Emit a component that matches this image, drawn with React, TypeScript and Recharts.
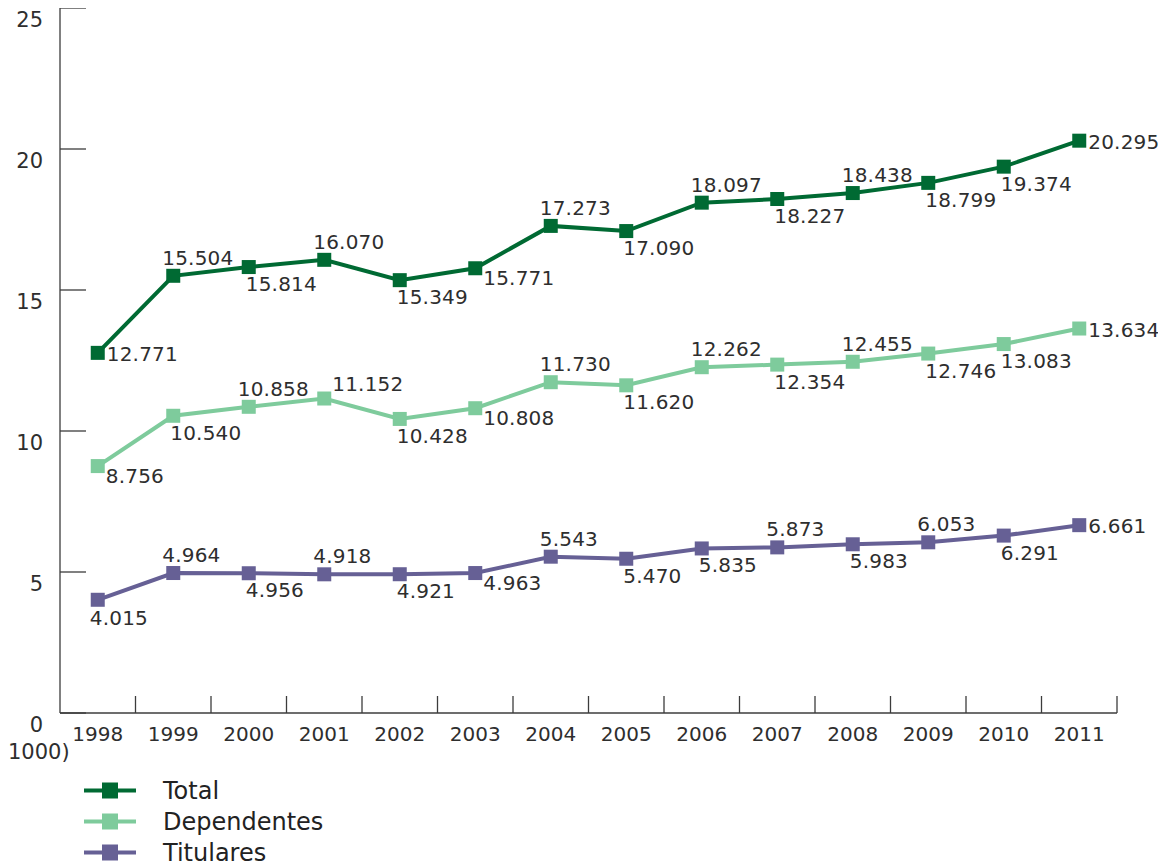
import React from "react";
import { LineChart, Line, XAxis, YAxis, Legend, LabelList } from "recharts";

const years = ["1998", "1999", "2000", "2001", "2002", "2003", "2004", "2005", "2006", "2007", "2008", "2009", "2010", "2011"];
const total = [12.771, 15.504, 15.814, 16.07, 15.349, 15.771, 17.273, 17.09, 18.097, 18.227, 18.438, 18.799, 19.374, 20.295];
const dependentes = [8.756, 10.54, 10.858, 11.152, 10.428, 10.808, 11.73, 11.62, 12.262, 12.354, 12.455, 12.746, 13.083, 13.634];
const titulares = [4.015, 4.964, 4.956, 4.918, 4.921, 4.963, 5.543, 5.47, 5.835, 5.873, 5.983, 6.053, 6.291, 6.661];
const yTicks = [0, 5, 10, 15, 20, 25];

// where each value label sits relative to its marker
const totalPos = ["r", "a", "b", "a", "b", "rb", "a", "b", "a", "b", "a", "b", "b", "r"];
const depPos = ["rb", "b", "a", "ra", "b", "rb", "a", "b", "a", "b", "a", "b", "b", "r"];
const titPos = ["bl", "a", "b", "a", "b", "rb", "a", "b", "b", "a", "b", "a", "b", "r"];

const FONT = "'DejaVu Sans', sans-serif";
const TEXT = "#2e2e2e";
const AXIS = "#3c3c3c";
const C_TOTAL = "#006a33";
const C_DEP = "#7ecb9c";
const C_TIT = "#666095";

const W = 1158;
const H = 857;
const M = { top: 0, right: 49, bottom: 122, left: 0 };
const Y_W = 52;
const X_H = 30;
const BAND = (W - M.left - M.right - Y_W) / years.length;

const data = years.map((year, i) => ({
  year,
  total: total[i],
  dependentes: dependentes[i],
  titulares: titulares[i],
}));

const offsets: Record<string, [number, number]> = {
  a: [-11, -11],
  b: [-3, 24],
  bl: [-8, 25],
  r: [9, 8],
  rb: [8, 17],
  ra: [8, -8],
};

const makeLabel = (pos: string[]) => (props: any) => {
  const x = props.x ?? props.viewBox?.x;
  const y = props.y ?? props.viewBox?.y;
  const [dx, dy] = offsets[pos[props.index]] || offsets.b;
  return (
    <text x={x + dx} y={y + dy} fontSize={20} fill={TEXT} fontFamily={FONT} letterSpacing={0.2}>
      {Number(props.value).toFixed(3)}
    </text>
  );
};

const makeDot = (color: string) => (props: any) => (
  <rect key={`d-${props.index}`} x={props.cx - 7} y={props.cy - 7} width={14} height={14} fill={color} />
);

const XTick = (props: any) => {
  const { x, y, payload } = props;
  return (
    <g>
      <line x1={x + BAND / 2} x2={x + BAND / 2} y1={y} y2={y - 17} stroke={AXIS} strokeWidth={1.3} />
      <text x={x} y={y + 28} textAnchor="middle" fontSize={20} fill={TEXT} fontFamily={FONT}>
        {payload.value}
      </text>
    </g>
  );
};

const YTick = (props: any) => {
  const { x, y, payload } = props;
  return (
    <g>
      <line x1={x} x2={x + 26} y1={y} y2={y} stroke={AXIS} strokeWidth={1.3} />
      <text x={x - 17} y={y + 19} textAnchor="end" fontSize={21} fill={TEXT} fontFamily={FONT}>
        {payload.value}
      </text>
      {payload.value === 0 && (
        <text x={0} y={y + 46} fontSize={21} fill={TEXT} fontFamily={FONT}>
          1000)
        </text>
      )}
    </g>
  );
};

const legendItems = [
  { name: "Total", color: C_TOTAL },
  { name: "Dependentes", color: C_DEP },
  { name: "Titulares", color: C_TIT },
];

const LegendContent = () => (
  <div style={{ fontFamily: FONT }}>
    {legendItems.map((it) => (
      <div key={it.name} style={{ display: "flex", alignItems: "center", height: 31 }}>
        <svg width={52} height={31}>
          <line x1={0} x2={52} y1={15.5} y2={15.5} stroke={it.color} strokeWidth={4} />
          <rect x={18} y={7.5} width={16} height={16} fill={it.color} />
        </svg>
        <span style={{ marginLeft: 27, fontSize: 24, color: "#222" }}>{it.name}</span>
      </div>
    ))}
  </div>
);

export default function App() {
  return (
    <div style={{ width: W, height: H, background: "#fff" }}>
      <LineChart width={W} height={H} data={data} margin={M} style={{ overflow: "visible" }}>
        <XAxis
          dataKey="year"
          interval={0}
          height={X_H}
          padding={{ left: BAND / 2, right: BAND / 2 }}
          tickSize={0}
          tickMargin={0}
          tickLine={false}
          axisLine={{ stroke: AXIS, strokeWidth: 1.3 }}
          tick={<XTick />}
        />
        <YAxis
          width={Y_W}
          domain={[0, 25]}
          ticks={yTicks}
          interval={0}
          tickSize={0}
          tickMargin={0}
          tickLine={false}
          axisLine={{ stroke: AXIS, strokeWidth: 1.3 }}
          tick={<YTick />}
        />
        <Legend
          layout="vertical"
          align="center"
          verticalAlign="middle"
          content={<LegendContent />}
          wrapperStyle={{ left: 76, top: 767, width: 300 }}
        />
        <Line dataKey="total" name="Total" stroke={C_TOTAL} strokeWidth={4} dot={makeDot(C_TOTAL)} isAnimationActive={false}>
          <LabelList dataKey="total" content={makeLabel(totalPos)} />
        </Line>
        <Line dataKey="dependentes" name="Dependentes" stroke={C_DEP} strokeWidth={4} dot={makeDot(C_DEP)} isAnimationActive={false}>
          <LabelList dataKey="dependentes" content={makeLabel(depPos)} />
        </Line>
        <Line dataKey="titulares" name="Titulares" stroke={C_TIT} strokeWidth={4} dot={makeDot(C_TIT)} isAnimationActive={false}>
          <LabelList dataKey="titulares" content={makeLabel(titPos)} />
        </Line>
      </LineChart>
    </div>
  );
}
